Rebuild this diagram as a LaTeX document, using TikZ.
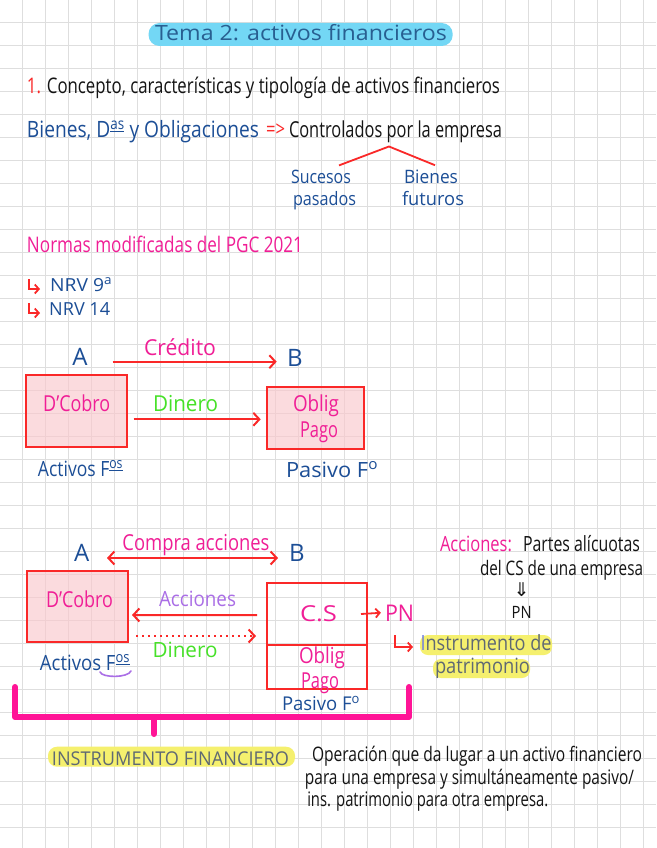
\documentclass[tikz,border=0pt]{standalone}
\usepackage{fontspec}
\usepackage{graphicx}
\setmainfont{Open Sans}
\newfontfamily\djv{DejaVu Sans}
\usetikzlibrary{arrows.meta,calc}

\definecolor{gridc}{RGB}{222,222,222}
\definecolor{hblue}{RGB}{28,78,150}
\definecolor{hmag}{RGB}{240,30,150}
\definecolor{hred}{RGB}{250,40,40}
\definecolor{hgreen}{RGB}{70,225,40}
\definecolor{hpurple}{RGB}{170,110,230}
\definecolor{boxfill}{RGB}{250,200,205}
\definecolor{hyel}{RGB}{245,240,110}
\definecolor{hcyan}{RGB}{115,215,245}
\definecolor{brmag}{RGB}{255,20,150}
\definecolor{hgray}{RGB}{95,105,115}
\definecolor{ttl}{RGB}{40,95,145}
\definecolor{hblack}{RGB}{20,20,20}
\definecolor{iblue}{RGB}{110,125,225}

\newcommand{\hw}[2]{\resizebox{#1pt}{\height}{#2}}
\newcommand{\fsz}[1]{\fontsize{#1}{#1}\selectfont}

\begin{document}
\begin{tikzpicture}[x=1pt,y=-1pt,
  txt/.style={inner sep=0pt, anchor=base},
  rbox/.style={draw=hred, line width=2pt, fill=boxfill, fill opacity=0.65, inner sep=0pt},
  wbox/.style={draw=hred, line width=2pt, inner sep=0pt},
  arr/.style={draw=hred, line width=2pt, -{Straight Barb[length=6pt,width=13pt]}},
  dblarr/.style={draw=hred, line width=2pt, {Straight Barb[length=6pt,width=13pt]}-{Straight Barb[length=6pt,width=13pt]}},
  hookarr/.style={draw=hred, line width=1.8pt, -{Straight Barb[length=4pt,width=9pt]}},
  treeln/.style={draw=hred, line width=1.8pt},
  brk/.style={draw=brmag, line width=6pt, line cap=round, line join=round}
]
\useasboundingbox (0,0) rectangle (656,848);
\fill[white] (0,0) rectangle (656,848);
\foreach \i in {0,...,27} \draw[gridc, line width=1.2pt] ({22.7+23*\i},0) -- ({22.7+23*\i},848);
\foreach \j in {0,...,35} \draw[gridc, line width=1.2pt] (0,{22.7+23*\j}) -- (656,{22.7+23*\j});

% title
\fill[hcyan, rounded corners=11pt] (148.5,23) rectangle (452.7,46);
\node[txt, text=ttl] (title) at (301,41) {\fsz{21}\hw{292}{Tema 2: activos financieros}};

% line 1
\node[txt, text=hblack] (l1) at (263.5,94) {\fsz{21.5}\hw{473}{\textcolor{hred}{1.} Concepto, características y tipología de activos financieros}};

% Bienes line
\node[txt, text=hblue] (bien) at (143,137) {\fsz{22.5}\hw{232}{Bienes, D\textsuperscript{\underline{as}} y Obligaciones}};
\node[txt, text=hred] (impl) at (275.5,137) {\fsz{21}\hw{19}{=>}};
\node[txt, text=hblack] (ctrl) at (395.5,137) {\fsz{22}\hw{213}{Controlados por la empresa}};

\node[txt, text=hblue] (suc1) at (321,183) {\fsz{18.5}\hw{60}{Sucesos}};
\node[txt, text=hblue] (suc2) at (324.5,205) {\fsz{18.5}\hw{63}{pasados}};
\node[txt, text=hblue] (bf1) at (431,183) {\fsz{18.5}\hw{54}{Bienes}};
\node[txt, text=hblue] (bf2) at (433,205) {\fsz{18.5}\hw{62}{futuros}};
\coordinate (apex) at ($(ctrl.base)+(-6.5,9.5)$);
\draw[treeln] ($(suc1.north)+(18,-4)$) -- (apex) -- ($(bf1.north)+(4,-4)$);

% Normas
\node[txt, text=hmag] (normas) at (165,252) {\fsz{21.5}\hw{276}{Normas modificadas del PGC 2021}};
\node[txt, anchor=base west, text=hblue] (nrv1) at (50,291) {\fsz{18}\hw{62}{NRV 9\textsuperscript{a}}};
\node[txt, anchor=base west, text=hblue] (nrv2) at (49,315) {\fsz{18}\hw{61}{NRV 14}};
\draw[hookarr] ($(nrv1.base west)+(-21,-12)$) -- ++(0,10) -- ++(11,0);
\draw[hookarr] ($(nrv2.base west)+(-20,-12)$) -- ++(0,10) -- ++(11,0);

% Diagram 1
\node[txt, text=hblue] (A1) at (80,365) {\fsz{24}A};
\node[txt, text=hblue] (B1) at (295,366) {\fsz{24}B};
\node[txt, text=hmag] (cred) at (180,355) {\fsz{22}\hw{72}{Crédito}};
\draw[arr] ($(A1.base)+(32.7,-3.3)$) -- ($(B1.base)+(-18.3,-4.3)$);

\node[rbox, minimum width=101pt, minimum height=71.7pt] (dc1) at (76.2,410.85) {};
\node[rbox, minimum width=97.3pt, minimum height=62pt] (ob1) at (315.35,418.3) {};
\node[txt, text=hmag] (dc1t) at (76.7,411) {\fsz{22}\hw{67}{D'Cobro}};
\node[txt, text=hmag] (ob1a) at (316,411) {\fsz{22}\hw{46}{Oblig}};
\node[txt, text=hmag] (ob1b) at (319,437) {\fsz{22}\hw{38}{Pago}};
\node[txt, text=hgreen] (din1) at (185.5,411) {\fsz{22}\hw{65}{Dinero}};
\draw[arr] ($(dc1.east)+(6,8.45)$) -- ($(ob1.west)+(-5,1)$);
\node[txt, text=hblue] (act1) at (80.5,476) {\fsz{21}\hw{85}{Activos F\textsuperscript{\underline{os}}}};
\node[txt, text=hblue] (pas1) at (332,477) {\fsz{21}\hw{92}{Pasivo F\textsuperscript{o}}};

% Diagram 2
\node[txt, text=hblue] (A2) at (81.6,561) {\fsz{24}A};
\node[txt, text=hblue] (B2) at (297,561) {\fsz{24}B};
\node[txt, text=hmag] (compra) at (196,550) {\fsz{22}\hw{147}{Compra acciones}};
\draw[dblarr] ($(A2.base)+(25.4,-3)$) -- ($(B2.base)+(-19,-3)$);

\node[rbox, minimum width=101pt, minimum height=71pt] (dc2) at (77.5,606.2) {};
\node[wbox, minimum width=99.4pt, minimum height=62.3pt] (cs) at (317,613.85) {};
\node[wbox, minimum width=99.4pt, minimum height=44.3pt] (ob2) at (317,667.15) {};
\node[txt, text=hmag] (dc2t) at (79.5,607) {\fsz{22}\hw{67}{D'Cobro}};
\node[txt, text=hmag] (cst) at (318.5,621) {\fsz{22}\hw{37}{C.S}};
\node[txt, text=hmag] (ob2a) at (322,663) {\fsz{22}\hw{46}{Oblig}};
\node[txt, text=hmag] (ob2b) at (320,688) {\fsz{22}\hw{38}{Pago}};

\node[txt, text=hpurple] (acc) at (197.5,606) {\fsz{21}\hw{77}{Acciones}};
\draw[arr] ($(cs.west)+(-9.3,1.2)$) -- ($(dc2.east)+(3,8.8)$);
\node[txt, text=hgreen] (din2) at (185,657) {\fsz{21}\hw{65}{Dinero}};
\draw[arr, dash pattern=on 2pt off 4pt] ($(dc2.east)+(7,29.8)$) -- ($(cs.west)+(-10.3,22.15)$);

\node[txt, text=hblue] (act2) at (85,670) {\fsz{21}\hw{90}{Activos F\textsuperscript{\underline{os}}}};
\draw[hpurple, line width=1.6pt, line cap=round] (100,672) .. controls (102,678) and (128,678) .. (131,671);
\node[txt, text=hblue] (pas2) at (321,710) {\fsz{19}\hw{78}{Pasivo F\textsuperscript{o}}};

\node[txt, text=hmag] (pn) at (399.5,621) {\fsz{23}\hw{29}{PN}};
\draw[draw=hred, line width=1.8pt, -{Straight Barb[length=4pt,width=9pt]}] ($(cs.east)+(-6.7,0.15)$) -- ($(pn.west)+(-4,0)$);
\fill[hyel, rounded corners=8pt] (420,635) rectangle (552,655);
\fill[hyel, rounded corners=8pt] (433,659) rectangle (530,678);
\node[txt, text=hgray] (ins1) at (486,650) {\fsz{21}\hw{131}{\textcolor{iblue}{I}nstrumento de}};
\node[txt, text=hgray] (ins2) at (482.5,673) {\fsz{21}\hw{95}{patrimonio}};
\draw[hookarr] ($(pn.base)+(-4.5,14)$) -- ++(0,12) -- ++(18,0);

% right definition
\node[txt, text=hmag] (accdef) at (476,551) {\fsz{21}\hw{72}{Acciones:}};
\node[txt, text=hblack] (partes) at (581.5,551) {\fsz{21}\hw{117}{Partes alícuotas}};
\node[txt, text=hblack] (delcs) at (561.5,575) {\fsz{20}\hw{163}{del CS de una empresa}};
\node[inner sep=0pt, text=hblack] (darr) at (521.7,590) {\djv\fsz{19}⇓};
\node[txt, text=hblack] (pn2) at (521.7,618) {\fsz{17}\hw{20}{PN}};

% bracket
\draw[brk] (15,687) -- (15,717) -- (409,717) -- (409,687);
\draw[brk] (154,717) -- (154,734);

% bottom
\fill[hyel, rounded corners=9pt] (48,746.7) rectangle (295,766.7);
\node[txt, text=hgray] (instf) at (170.5,765) {\fsz{19}\hw{237}{INSTRUMENTO FINANCIERO}};
\node[txt, text=hblack] (d1) at (477,761) {\fsz{20}\hw{330}{Operación que da lugar a un activo financiero}};
\node[txt, text=hblack] (d2) at (469.5,784) {\fsz{20}\hw{329}{para una empresa y simultáneamente pasivo/}};
\node[txt, text=hblack] (d3) at (427.75,806) {\fsz{20}\hw{241}{ins. patrimonio para otra empresa.}};
\end{tikzpicture}
\end{document}
